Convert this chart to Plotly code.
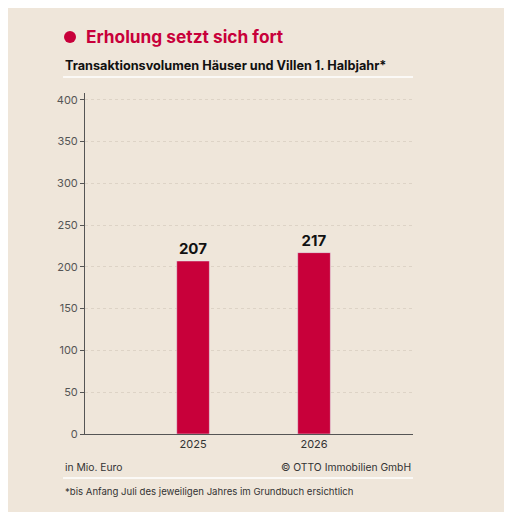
import plotly.graph_objects as go

years = ["2025", "2026"]
values = [207, 217]
x_pos = [0, 1]
y_ticks = [0, 50, 100, 150, 200, 250, 300, 350, 400]

bg = "#EFE6DA"
red = "#C8003A"
font = "Inter"

def py(y):  # reference pixel y -> paper fraction
    return (434 - y) / 341

fig = go.Figure(go.Bar(
    x=x_pos, y=values, width=0.27, marker_color=red,
    text=["<b>%d</b>" % v for v in values], textposition="outside",
    textfont=dict(family=font, size=15, color="#111"), cliponaxis=False))

fig.update_layout(
    width=504, height=504, paper_bgcolor=bg, plot_bgcolor=bg,
    margin=dict(l=77, r=99, t=85, b=78), showlegend=False,
    font=dict(family=font, color="#333"),
    xaxis=dict(range=[-0.893, 1.818], tickvals=x_pos, ticktext=years,
               showgrid=False, zeroline=False, showline=True, linecolor="#555",
               linewidth=1, ticks="", tickfont=dict(size=11, color="#333")),
    yaxis=dict(range=[0, 408], tickvals=y_ticks, showgrid=True,
               gridcolor="#DDD3C6", griddash="dot", zeroline=False,
               showline=True, linecolor="#555", linewidth=1,
               ticks="outside", ticklen=4, tickcolor="#555",
               tickfont=dict(size=11, color="#555")),
    shapes=[
        dict(type="circle", xref="paper", yref="paper", xsizemode="pixel", ysizemode="pixel",
             xanchor=-0.0457, yanchor=py(37), x0=-6, x1=6, y0=-6, y1=6,
             fillcolor=red, line_width=0, layer="above"),
        dict(type="line", xref="paper", yref="paper", x0=-0.067, x1=1,
             y0=py(77), y1=py(77), line=dict(color="#FFFFFF", width=1.5)),
        dict(type="line", xref="paper", yref="paper", x0=-0.067, x1=1,
             y0=py(478), y1=py(478), line=dict(color="#FFFFFF", width=1.5)),
    ],
    annotations=[
        dict(text="<b>Erholung setzt sich fort</b>", xref="paper", yref="paper",
             x=-0.003, y=py(37), xanchor="left", yanchor="middle",
             showarrow=False, font=dict(size=17.3, color=red, family=font)),
        dict(text="<b>Transaktionsvolumen Häuser und Villen 1. Halbjahr*</b>", xref="paper", yref="paper",
             x=-0.067, y=py(65), xanchor="left", yanchor="middle",
             showarrow=False, font=dict(size=12.7, color="#111", family=font)),
        dict(text="in Mio. Euro", xref="paper", yref="paper",
             x=-0.067, y=py(467), xanchor="left", yanchor="middle",
             showarrow=False, font=dict(size=10.3, color="#333", family=font)),
        dict(text="© OTTO Immobilien GmbH", xref="paper", yref="paper",
             x=1, y=py(467), xanchor="right", yanchor="middle",
             showarrow=False, font=dict(size=10.3, color="#333", family=font)),
        dict(text="*bis Anfang Juli des jeweiligen Jahres im Grundbuch ersichtlich", xref="paper", yref="paper",
             x=-0.067, y=py(491), xanchor="left", yanchor="middle",
             showarrow=False, font=dict(size=9.6, color="#333", family=font)),
    ])

fig.write_html("out.html")
